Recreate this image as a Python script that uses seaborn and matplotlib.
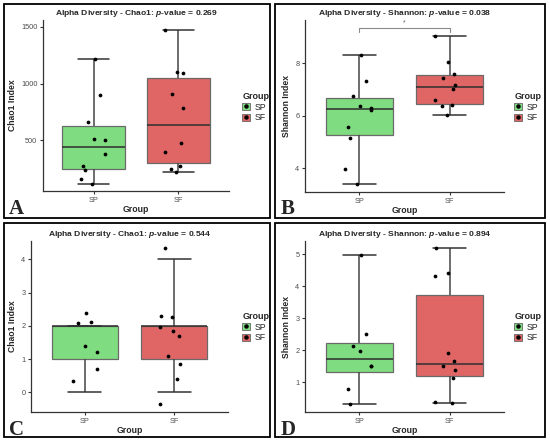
import numpy as np
import pandas as pd
import seaborn as sns
import matplotlib.pyplot as plt
from matplotlib.patches import Patch, Rectangle
from matplotlib.lines import Line2D

# groupes et couleurs
groups = ["SP", "SF"]
palette = {"SP": "#80DC80", "SF": "#E06666"}

# A - Chao1
a_sp = [1220, 898, 666, 509, 503, 378, 279, 244, 160, 119]
a_sf = [1471, 1105, 1096, 907, 785, 480, 398, 273, 250, 218]
# B - Shannon
b_sp = [8.30, 7.32, 6.76, 6.37, 6.29, 6.23, 5.57, 5.17, 3.96, 3.42]
b_sf = [9.05, 8.06, 7.57, 7.45, 7.18, 7.00, 6.61, 6.41, 6.37, 6.01]
# C - Chao1 (valeurs entieres pour les boites, points tels qu'affiches)
c_sp = [2, 2, 2, 2, 1, 1, 0]
c_sf = [4, 2, 2, 2, 2, 2, 1, 1, 0, 0]
c_sp_pts = [2.40, 2.12, 2.10, 1.38, 1.22, 0.71, 0.34]
c_sf_pts = [4.35, 2.30, 2.26, 1.96, 1.84, 1.69, 1.09, 0.86, 0.39, -0.34]
# D - Shannon
d_sp = [4.97, 2.51, 2.14, 1.97, 1.50, 1.50, 0.77, 0.32]
d_sf = [5.21, 4.43, 4.32, 1.90, 1.66, 1.50, 1.37, 1.14, 0.37, 0.35]

p_values = ["0.269", "0.038", "0.544", "0.894"]

sns.set_style("white")
plt.rcParams["font.family"] = ["Liberation Sans", "DejaVu Sans"]
plt.rcParams["mathtext.fontset"] = "custom"
plt.rcParams["mathtext.rm"] = "Liberation Sans:bold"
plt.rcParams["mathtext.it"] = "Liberation Sans:italic:bold"
plt.rcParams["mathtext.bf"] = "Liberation Sans:bold"

W, H = 550, 443
fig = plt.figure(figsize=(W / 100, H / 100), dpi=100)


def px(l, t, r, b):
    return [l / W, 1 - b / H, (r - l) / W, (b - t) / H]


def long(sp, sf):
    return pd.DataFrame({"Group": ["SP"] * len(sp) + ["SF"] * len(sf),
                         "value": list(sp) + list(sf)})


def panel(rect, box_df, pts_df, title, ylabel, ylim, yticks, letter, letter_xy, leg_xy):
    ax = fig.add_axes(px(*rect))
    sns.boxplot(data=box_df, x="Group", y="value", hue="Group", order=groups,
                palette=palette, width=0.74, whis=(0, 100), showfliers=False,
                linecolor="#6a6a6a", linewidth=0.9, saturation=1, legend=False,
                medianprops={"color": "#2e2e2e", "linewidth": 1.1},
                whiskerprops={"color": "#454545", "linewidth": 1.1},
                capprops={"color": "#333333", "linewidth": 1.1}, ax=ax)
    np.random.seed(3)
    sns.stripplot(data=pts_df, x="Group", y="value", order=groups, color="black",
                  size=2.7, jitter=0.17, linewidth=0, ax=ax)
    ax.set_xlim(-0.6, 1.6)
    ax.set_ylim(*ylim)
    ax.set_yticks(yticks)
    ax.set_title(title, fontsize=6.1, fontweight="bold", pad=3.5)
    ax.set_ylabel(ylabel, fontsize=6.2, fontweight="bold", labelpad=3)
    ax.set_xlabel("Group", fontsize=6.3, fontweight="bold", labelpad=1)
    for s in ["top", "right"]:
        ax.spines[s].set_visible(False)
    for s in ["left", "bottom"]:
        ax.spines[s].set_color("#333333")
        ax.spines[s].set_linewidth(0.9)
    ax.tick_params(axis="both", length=2.5, width=0.8, color="#333333",
                   labelsize=5.3, labelcolor="#4d4d4d", pad=1.5, left=True, bottom=True)
    handles = [(Patch(facecolor=palette[g], edgecolor="#666666", linewidth=0.6),
                Line2D([], [], marker="o", color="black", markersize=2.2, linestyle="none"))
               for g in groups]
    ax.legend(handles, groups, title="Group", loc="center left",
              bbox_to_anchor=(leg_xy[0] / W, 1 - leg_xy[1] / H),
              bbox_transform=fig.transFigure, frameon=False, fontsize=6.3,
              title_fontproperties={"weight": "bold", "size": 6.5},
              handlelength=0.9, handleheight=0.8, handletextpad=0.5,
              labelspacing=0.2, borderpad=0, alignment="left")
    fig.text(letter_xy[0] / W, 1 - letter_xy[1] / H, letter, family="Liberation Serif",
             fontweight="bold", fontsize=15, va="baseline")
    return ax


# cadres des panneaux
for l, t, r, b in [(4, 4, 270, 218), (275, 4, 545, 218), (4, 223, 270, 437), (275, 223, 545, 437)]:
    fig.add_artist(Rectangle((l / W, 1 - b / H), (r - l) / W, (b - t) / H,
                             transform=fig.transFigure, fill=False,
                             edgecolor="black", linewidth=1.3))

panel((43, 20, 229, 191), long(a_sp, a_sf), long(a_sp, a_sf),
      "Alpha Diversity - Chao1: $p$-value = " + p_values[0], "Chao1 Index",
      (55, 1561), [500, 1000, 1500], "A", (9, 214), (238, 107))

ax_b = panel((305, 20, 504, 192), long(b_sp, b_sf), long(b_sp, b_sf),
             "Alpha Diversity - Shannon: $p$-value = " + p_values[1], "Shannon Index",
             (3.10, 9.64), [4, 6, 8], "B", (281, 214), (510, 107))
# crochet de significativite
top = max(max(b_sp), max(b_sf))
ax_b.plot([0, 0, 1, 1], [top + 0.15, top + 0.28, top + 0.28, top + 0.15],
          color="#8a8a8a", linewidth=0.8)
ax_b.text(0.5, top + 0.36, "*", ha="center", va="bottom", fontsize=5, color="#666666")

panel((31, 241, 228, 412), long(c_sp, c_sf), long(c_sp_pts, c_sf_pts),
      "Alpha Diversity - Chao1: $p$-value = " + p_values[2], "Chao1 Index",
      (-0.59, 4.55), [0, 1, 2, 3, 4], "C", (9, 435), (238, 327))

panel((305, 241, 504, 412), long(d_sp, d_sf), long(d_sp, d_sf),
      "Alpha Diversity - Shannon: $p$-value = " + p_values[3], "Shannon Index",
      (0.06, 5.42), [1, 2, 3, 4, 5], "D", (281, 435), (510, 327))

fig.savefig("out.png", dpi=100)
